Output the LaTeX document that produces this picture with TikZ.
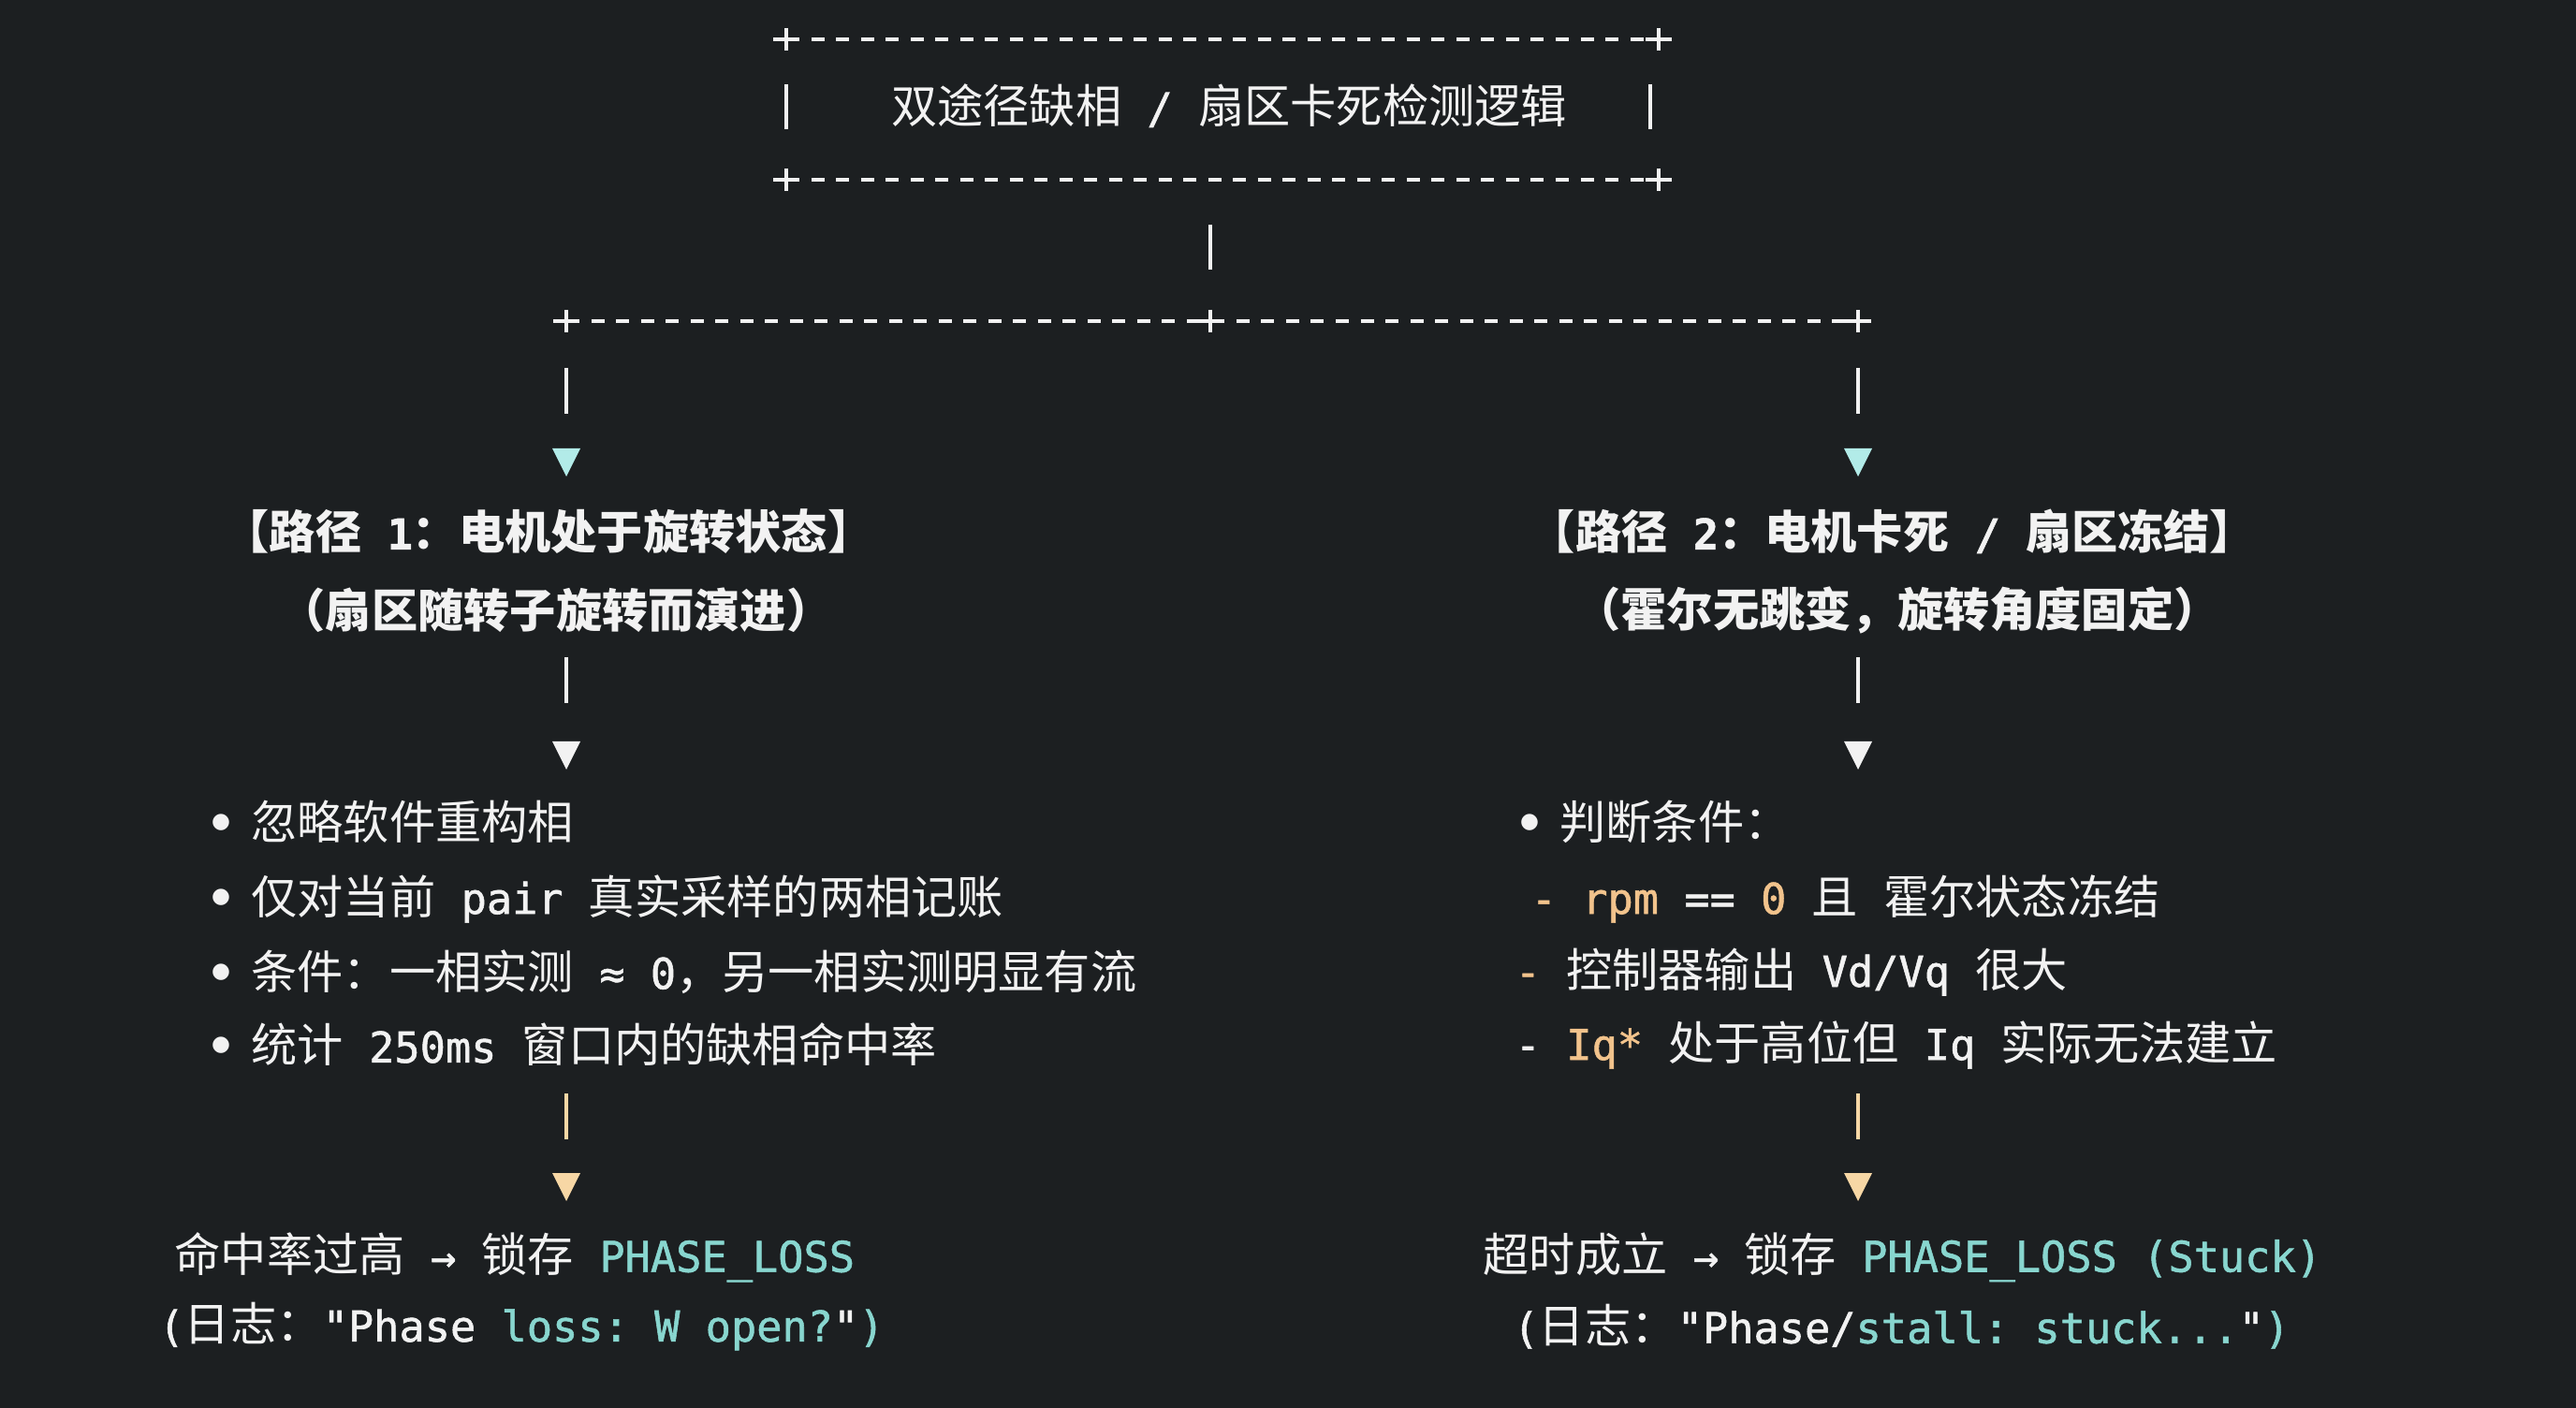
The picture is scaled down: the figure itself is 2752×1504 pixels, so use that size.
\documentclass[tikz,border=0pt]{standalone}
\usepackage{fontspec}
\setmainfont{Noto Sans CJK SC}
\setmonofont{DejaVu Sans Mono}[Scale=0.92, FakeBold=1.2]
\newfontfamily\dotfont{DejaVu Sans}
\usetikzlibrary{positioning}
\definecolor{bgdark}{HTML}{1C1F21}
\definecolor{txtwhite}{HTML}{F2F2F2}
\definecolor{codecyan}{HTML}{88D6CF}
\definecolor{codeorange}{HTML}{F2C38C}
\definecolor{tricyan}{HTML}{B2EBE8}
\definecolor{triorange}{HTML}{F7D7A5}
\newcommand{\cy}[1]{\textcolor{codecyan}{\texttt{#1}}}
\newcommand{\og}[1]{\textcolor{codeorange}{\texttt{#1}}}
\newcommand{\bul}{\makebox[13pt][l]{\hspace{1pt}\raisebox{0.45ex}{\fontsize{6.5}{7}\dotfont ●}}}
\tikzset{
every node/.style={text=txtwhite, inner sep=0pt, font=\fontsize{14}{16}\selectfont},
heading/.style={font=\fontsize{14}{16}\selectfont\bfseries},
listline/.style={anchor=west},
ascii/.style={draw=txtwhite, line width=1.3pt},
dashrule/.style={ascii, dash pattern=on 0.14cm off 0.125cm},
orangebar/.style={draw=triorange, line width=1.3pt},
plus/.pic={\draw[ascii] (-14,0)--(14,0) (0,-12)--(0,12);},
tri/.pic={\fill (-15,0)--(15,0)--(0,30)--cycle;},
}

\begin{document}
\begin{tikzpicture}[x=0.01cm, y=-0.01cm]
    \fill[bgdark] (0,0) rectangle (2752,1504);
    \useasboundingbox (0,0) rectangle (2752,1504);

    %title box
    \coordinate (tl) at (840,42);
    \coordinate (tr) at (1772,42);
    \coordinate (bl) at (840,192);
    \coordinate (br) at (1772,192);
    \draw[dashrule] (tl)--(tr);
    \draw[dashrule] (bl)--(br);
    \foreach \c in {tl,tr,bl,br} \pic at (\c) {plus};
    \node (title) at (1313,113) {双途径缺相\texttt{ / }扇区卡死检测逻辑};
    \coordinate (wl1) at (840,90);
    \coordinate (wl2) at (840,138);
    \coordinate (wr1) at (1763,90);
    \coordinate (wr2) at (1763,138);
    \draw[ascii] (wl1)--(wl2);
    \draw[ascii] (wr1)--(wr2);

    %split
    \coordinate (hub1) at (1293,240);
    \coordinate (hub2) at (1293,288);
    \coordinate (sl) at (605,343);
    \coordinate (sm) at (1293,343);
    \coordinate (sr) at (1985,343);
    \draw[ascii] (hub1)--(hub2);
    \draw[dashrule] (sl)--(sr);
    \foreach \c in {sl,sm,sr} \pic at (\c) {plus};

    %columns
    \foreach \x/\n in {605/l,1985/r}{
        \coordinate (\n a1) at (\x,393);
        \coordinate (\n a2) at (\x,442);
        \coordinate (\n b1) at (\x,702);
        \coordinate (\n b2) at (\x,751);
        \coordinate (\n c1) at (\x,1168);
        \coordinate (\n c2) at (\x,1217);
        \draw[ascii] (\n a1)--(\n a2);
        \draw[ascii] (\n b1)--(\n b2);
        \draw[orangebar] (\n c1)--(\n c2);
        \pic[tricyan] at (\x,479) {tri};
        \pic[txtwhite] at (\x,792) {tri};
        \pic[triorange] at (\x,1253) {tri};
    }

    %path 1
    \node[heading] (head1) at (586,568) {【路径\texttt{ 1}：电机处于旋转状态】};
    \node[heading] (sub1) at (594,652) {（扇区随转子旋转而演进）};
    \node[listline] (l1) at (222,878) {\bul 忽略软件重构相};
    \node[listline] (l2) at (222,960) {\bul 仅对当前\texttt{ pair }真实采样的两相记账};
    \node[listline] (l3) at (222,1038) {\bul 条件：一相实测\texttt{ ≈ 0}，另一相实测明显有流};
    \node[listline] (l4) at (222,1116) {\bul 统计\texttt{ 250ms }窗口内的缺相命中率};
    \node[listline] (res1) at (186,1343) {命中率过高\texttt{ → }锁存\cy{ PHASE\_LOSS}};
    \node[listline] (log1) at (169,1417) {\texttt{(}日志：\texttt{"Phase}\cy{ loss: W open?}\texttt{"}\cy{)}};

    %path 2
    \node[heading] (head2) at (2022,568) {【路径\texttt{ 2}：电机卡死\texttt{ / }扇区冻结】};
    \node[heading] (sub2) at (2027,652) {（霍尔无跳变，旋转角度固定）};
    \node[listline] (r1) at (1620,878) {\bul 判断条件：};
    \node[listline] (r2) at (1635,960) {\og{- rpm}\texttt{ == }\og{0}\texttt{ }且\texttt{ }霍尔状态冻结};
    \node[listline] (r3) at (1618,1038) {\og{- }控制器输出\texttt{ Vd/Vq }很大};
    \node[listline] (r4) at (1618,1116) {\texttt{- }\og{Iq*}\texttt{ }处于高位但\texttt{ Iq }实际无法建立};
    \node[listline] (res2) at (1584,1343) {超时成立\texttt{ → }锁存\cy{ PHASE\_LOSS (Stuck)}};
    \node[listline] (log2) at (1616,1417) {\texttt{(}日志：\texttt{"Phase/}\cy{stall: stuck...}\texttt{"}\cy{)}};
\end{tikzpicture}
\end{document}
